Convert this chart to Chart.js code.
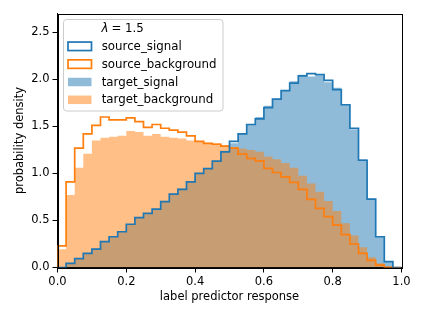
<!DOCTYPE html>
<html><head><meta charset="utf-8">
<script src="https://cdn.jsdelivr.net/npm/chart.js@4"></script>
<style>html,body{margin:0;padding:0;background:#fff;}#wrap{width:424px;height:318px;}canvas{display:block;}</style>
</head><body>
<div id="wrap"><canvas id="c" width="424" height="318"></canvas></div>
<script>
const binEdges = [0.000,0.025,0.050,0.075,0.100,0.125,0.150,0.175,0.200,0.225,0.250,0.275,0.300,0.325,0.350,0.375,0.400,0.425,0.450,0.475,0.500,0.525,0.550,0.575,0.600,0.625,0.650,0.675,0.700,0.725,0.750,0.775,0.800,0.825,0.850,0.875,0.900,0.925,0.950,0.975,1.000];
const sourceSignal = [0.0,0.044,0.094,0.15,0.196,0.274,0.327,0.38,0.46,0.53,0.575,0.62,0.70,0.78,0.83,0.91,1.0,1.05,1.13,1.23,1.34,1.42,1.52,1.58,1.70,1.79,1.88,1.96,2.036,2.06,2.05,1.99,1.89,1.73,1.48,1.14,0.727,0.327,0.062,0.0];
const sourceBackground = [0.23,0.91,1.27,1.42,1.51,1.60,1.57,1.57,1.59,1.55,1.49,1.52,1.48,1.46,1.44,1.40,1.34,1.32,1.31,1.29,1.27,1.205,1.16,1.134,1.053,1.01,0.964,0.904,0.83,0.724,0.628,0.54,0.45,0.35,0.25,0.15,0.075,0.025,0.0,0.0];
const targetSignal = [0.0,0.045,0.095,0.15,0.20,0.275,0.33,0.38,0.46,0.53,0.58,0.62,0.70,0.78,0.84,0.91,1.0,1.05,1.13,1.24,1.32,1.42,1.52,1.60,1.72,1.79,1.88,1.98,2.05,2.03,2.04,1.97,1.91,1.73,1.47,1.15,0.73,0.33,0.06,0.0];
const targetBackground = [0.193,0.77,1.06,1.21,1.35,1.38,1.39,1.40,1.45,1.44,1.40,1.42,1.39,1.38,1.37,1.35,1.336,1.325,1.32,1.30,1.277,1.265,1.25,1.23,1.18,1.15,1.11,1.06,0.975,0.894,0.806,0.707,0.60,0.47,0.34,0.214,0.108,0.044,0.016,0.0];
const seriesLabels = ['source_signal','source_background','target_signal','target_background'];
const legendTitle = '= 1.5';
const xTicks = [0.0,0.2,0.4,0.6,0.8,1.0];
const yTicks = [0.0,0.5,1.0,1.5,2.0,2.5];

const BLUE = '#1f77b4', ORANGE = '#ff7f0e';
const BLUE_F = 'rgba(31,119,180,0.5)', ORANGE_F = 'rgba(255,127,14,0.5)';
const FONT = 'DejaVu Sans';

function stepPoints(vals){
  const pts = [{x: binEdges[0], y: 0}];
  vals.forEach((v,i)=>pts.push({x: binEdges[i], y: v}));
  pts.push({x: binEdges[binEdges.length-1], y: vals[vals.length-1]});
  pts.push({x: binEdges[binEdges.length-1], y: 0});
  return pts;
}

const frame = {
  id: 'frame',
  afterDatasetsDraw(chart){
    const {ctx, chartArea: a} = chart;
    ctx.save();
    ctx.strokeStyle = '#000'; ctx.lineWidth = 1;
    ctx.strokeRect(Math.round(a.left)+0.5, Math.round(a.top)+0.5, Math.round(a.right-a.left), Math.round(a.bottom-a.top));
    ctx.restore();
  }
};

const legendPlugin = {
  id: 'inlegend',
  afterDraw(chart){
    const ctx = chart.ctx;
    ctx.save();
    const bx = 63.5, by = 19.5, bw = 159.5, bh = 91.5, r = 3;
    ctx.beginPath();
    ctx.moveTo(bx+r, by); ctx.lineTo(bx+bw-r, by); ctx.arcTo(bx+bw, by, bx+bw, by+r, r);
    ctx.lineTo(bx+bw, by+bh-r); ctx.arcTo(bx+bw, by+bh, bx+bw-r, by+bh, r);
    ctx.lineTo(bx+r, by+bh); ctx.arcTo(bx, by+bh, bx, by+bh-r, r);
    ctx.lineTo(bx, by+r); ctx.arcTo(bx, by, bx+r, by, r); ctx.closePath();
    ctx.fillStyle = 'rgba(255,255,255,0.8)'; ctx.fill();
    ctx.strokeStyle = '#cccccc'; ctx.lineWidth = 1; ctx.stroke();
    ctx.fillStyle = '#000'; ctx.textBaseline = 'middle'; ctx.textAlign = 'left';
    ctx.font = 'italic 11.8px "' + FONT + '"';
    ctx.fillText('\u03BB', 101.5, 28.8);
    const lw = ctx.measureText('\u03BB').width;
    ctx.font = '11.8px "' + FONT + '"';
    ctx.fillText(legendTitle, 101.5 + lw + 3, 28.8);
    const rows = [46.3, 64.1, 82.0, 99.8];
    const styles = [{stroke: BLUE}, {stroke: ORANGE}, {fill: BLUE_F}, {fill: ORANGE_F}];
    rows.forEach((cy,i)=>{
      const hx = 68, hw = 23.5, hh = 8.5, hy = cy - hh/2;
      if (styles[i].fill){ ctx.fillStyle = styles[i].fill; ctx.fillRect(hx, hy, hw, hh); }
      else { ctx.strokeStyle = styles[i].stroke; ctx.lineWidth = 1.7; ctx.strokeRect(hx, hy, hw, hh); }
      ctx.fillStyle = '#000';
      ctx.fillText(seriesLabels[i], 101.7, cy + 0.5);
    });
    ctx.restore();
  }
};

const tickFont = {family: FONT, size: 11.5};
new Chart(document.getElementById('c'), {
  type: 'line',
  data: {
    datasets: [
      {label: seriesLabels[0], data: stepPoints(sourceSignal), stepped: 'before', borderColor: BLUE, borderWidth: 1.7, pointRadius: 0, fill: false, order: 0},
      {label: seriesLabels[1], data: stepPoints(sourceBackground), stepped: 'before', borderColor: ORANGE, borderWidth: 1.7, pointRadius: 0, fill: false, order: 1},
      {label: seriesLabels[2], data: stepPoints(targetSignal), stepped: 'before', borderWidth: 0, borderColor: 'rgba(0,0,0,0)', backgroundColor: BLUE_F, pointRadius: 0, fill: 'origin', order: 3},
      {label: seriesLabels[3], data: stepPoints(targetBackground), stepped: 'before', borderWidth: 0, borderColor: 'rgba(0,0,0,0)', backgroundColor: ORANGE_F, pointRadius: 0, fill: 'origin', order: 2}
    ]
  },
  options: {
    responsive: false, animation: false, devicePixelRatio: 1,
    layout: {padding: {left: 0, right: 22.5, top: 13.5, bottom: 0}},
    plugins: {legend: {display: false}, tooltip: {enabled: false}},
    scales: {
      x: {
        type: 'linear', min: 0, max: 1,
        afterBuildTicks: s => { s.ticks = xTicks.map(v => ({value: v})); },
        afterFit: s => { s.height = 50.5; },
        ticks: {font: tickFont, color: '#000', padding: 3, maxRotation: 0, autoSkip: false, callback: v => Number(v).toFixed(1)},
        grid: {drawOnChartArea: false, drawTicks: true, tickLength: 5, color: '#000', lineWidth: 1},
        border: {display: true, color: '#000', width: 1},
        title: {display: true, text: 'label predictor response', font: tickFont, color: '#000', padding: {top: 2, bottom: 14}}
      },
      y: {
        type: 'linear', min: 0, max: 2.7,
        afterBuildTicks: s => { s.ticks = yTicks.map(v => ({value: v})); },
        afterFit: s => { s.width = 57.5; },
        ticks: {font: tickFont, color: '#000', padding: 3, callback: v => Number(v).toFixed(1)},
        grid: {drawOnChartArea: false, drawTicks: true, tickLength: 5, color: '#000', lineWidth: 1},
        border: {display: true, color: '#000', width: 1},
        title: {display: true, text: 'probability density', font: tickFont, color: '#000', padding: {top: 13, bottom: 2}}
      }
    }
  },
  plugins: [frame, legendPlugin]
});
</script>
</body></html>
